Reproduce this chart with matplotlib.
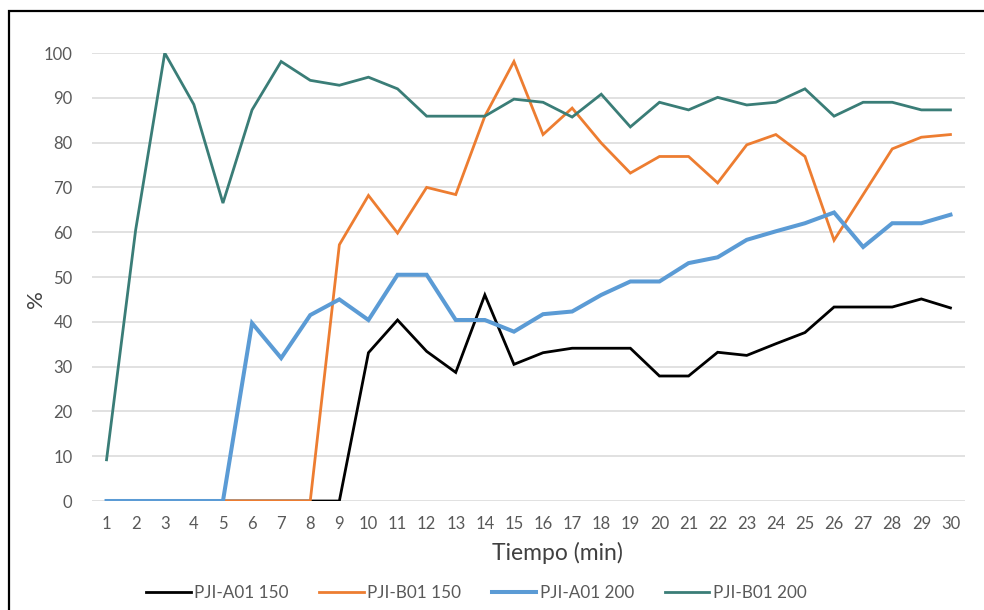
import matplotlib.pyplot as plt
from matplotlib.patches import Rectangle

plt.rcParams['font.family'] = ['Lato', 'DejaVu Sans']

# minutos 1..30
tiempo = list(range(1, 31))

pji_a01_150 = [0, 0, 0, 0, 0, 0, 0, 0, 0, 33.1,
               40.4, 33.4, 28.7, 46.0, 30.5, 33.1, 34.1, 34.1, 34.1, 27.9,
               27.9, 33.2, 32.5, 35.1, 37.6, 43.3, 43.3, 43.3, 45.1, 43.1]
pji_b01_150 = [0, 0, 0, 0, 0, 0, 0, 0, 57.2, 68.2,
               59.8, 70.0, 68.4, 85.9, 98.1, 81.8, 87.7, 79.9, 73.2, 76.9,
               76.9, 71.0, 79.5, 81.8, 76.9, 58.2, 68.4, 78.6, 81.2, 81.8]
pji_a01_200 = [0, 0, 0, 0, 0, 39.7, 31.9, 41.5, 45.0, 40.4,
               50.5, 50.5, 40.4, 40.4, 37.8, 41.7, 42.3, 46.0, 49.0, 49.0,
               53.1, 54.4, 58.3, 60.2, 62.0, 64.4, 56.7, 62.0, 62.0, 63.9]
pji_b01_200 = [9.2, 60.5, 100, 88.5, 66.5, 87.3, 98.1, 93.9, 92.8, 94.6,
               92.0, 85.9, 85.9, 85.9, 89.7, 89.0, 85.7, 90.8, 83.5, 89.0,
               87.3, 90.1, 88.4, 89.0, 92.0, 85.9, 89.0, 89.0, 87.3, 87.3]

series = [
    ("PJI-A01 150", pji_a01_150, "#000000", 2.0),
    ("PJI-B01 150", pji_b01_150, "#ED7D31", 2.0),
    ("PJI-A01 200", pji_a01_200, "#5B9BD5", 2.9),
    ("PJI-B01 200", pji_b01_200, "#3A7D77", 2.0),
]

W, H = 984, 610
fig = plt.figure(figsize=(W / 100, H / 100), dpi=100)
ax = fig.add_axes([92 / W, (H - 501) / H, 873 / W, 448 / H])

for name, vals, col, lw in series:
    ax.plot(tiempo, vals, color=col, lw=lw, label=name, solid_joinstyle='miter', zorder=3)

ax.set_xlim(0.5, 30.5)
ax.set_ylim(0, 100)
ax.set_xticks(tiempo)
ax.set_yticks(range(0, 101, 10))
ax.grid(axis='y', color='#D9D9D9', lw=1.1)
ax.set_axisbelow(True)
for s in ax.spines.values():
    s.set_visible(False)
ax.tick_params(length=0, labelsize=12, labelcolor='#595959')
ax.tick_params(axis='y', pad=14)
ax.tick_params(axis='x', pad=11)

# títulos de ejes
fig.text(557 / W, (H - 553) / H, "Tiempo (min)", fontsize=16.5, color='#404040',
         ha='center', va='center')
fig.text(36 / W, (H - 299) / H, "%", fontsize=16, color='#404040',
         ha='center', va='center', rotation=90)

fig.legend(loc='center', bbox_to_anchor=(0.484, (H - 593) / H), ncol=4, frameon=False,
           fontsize=12.3, labelcolor='#595959', handlelength=2.6, handletextpad=0.2,
           columnspacing=1.8)

# marco exterior
fig.patches.append(Rectangle((9 / W, -0.2), 1.2, (H - 11) / H + 0.2, transform=fig.transFigure,
                             fill=False, edgecolor='black', lw=1.6))

fig.savefig("out.png", dpi=100)
